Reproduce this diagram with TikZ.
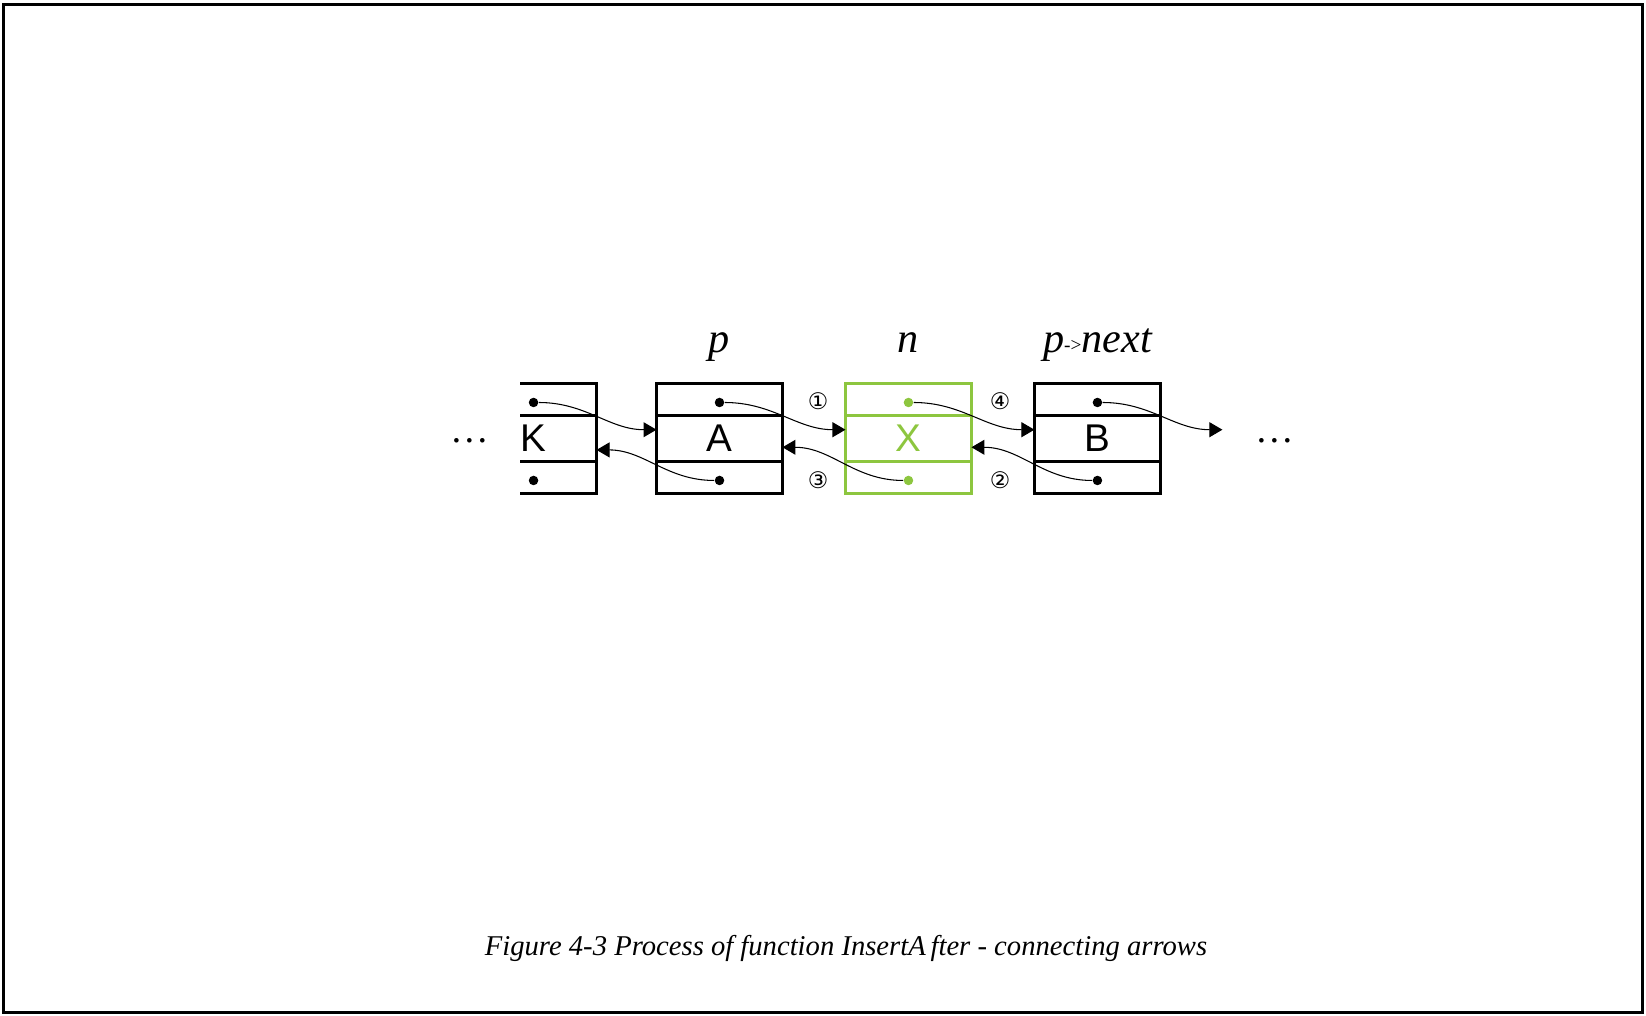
\documentclass[tikz,border=0pt]{standalone}
\usepackage{fontspec}
\setmainfont{Liberation Serif}
\setsansfont{Liberation Sans}
\newfontfamily\circfont{DejaVu Sans}
\usetikzlibrary{positioning,arrows.meta}
\definecolor{xgreen}{RGB}{141,198,63}

\begin{document}
\begin{tikzpicture}[->,>={Triangle[length=7.4pt,width=8.5pt]},x=0.02cm,y=-0.02cm,node distance=1.26cm,line width=0.6pt]
\tikzstyle{cell}=[draw=black,line width=1.6pt,minimum width=2.52cm,inner sep=0pt,outer sep=0pt]
\tikzstyle{ptr}=[cell,minimum height=0.64cm]
\tikzstyle{val}=[cell,minimum height=0.92cm,font=\sffamily\fontsize{22}{26}\selectfont]
\tikzstyle{newnode}=[draw=xgreen,text=xgreen]
\tikzstyle{dot}=[circle,fill=black,inner sep=0pt,minimum size=0.19cm]
\tikzstyle{lbl}=[anchor=base,font=\itshape\fontsize{24}{28}\selectfont]
\tikzstyle{num}=[font=\circfont\fontsize{13}{15}\selectfont]

\useasboundingbox (0,0) rectangle (1646,1016);
\draw[-,line width=1.7pt] (3.7,4.3) rectangle (1642,1012);

% the three whole nodes
\node[val] (A) at (719.5,438.5) {A};
\node[ptr] (An) [above=0pt of A] {};
\node[ptr] (Ap) [below=0pt of A] {};
\node[val,newnode] (X) [right=of A] {X};
\node[ptr,newnode] (Xn) [above=0pt of X] {};
\node[ptr,newnode] (Xp) [below=0pt of X] {};
\node[val] (B) [right=of X] {B};
\node[ptr] (Bn) [above=0pt of B] {};
\node[ptr] (Bp) [below=0pt of B] {};

% K is cut off on the left
\begin{scope}
\clip (520,370) rectangle (610,510);
\node[val] (K) [left=1.2cm of A] {K};
\node[ptr] (Kn) [above=0pt of K] {};
\node[ptr] (Kp) [below=0pt of K] {};
\end{scope}

\node[dot] (dKn) at ([yshift=-1.7pt]Kn.center) {};
\node[dot] (dKp) at ([yshift=-1.7pt]Kp.center) {};
\node[dot] (dAn) at ([yshift=-1.7pt]An.center) {};
\node[dot] (dAp) at ([yshift=-1.7pt]Ap.center) {};
\node[dot,fill=xgreen] (dXn) at ([yshift=-1.7pt]Xn.center) {};
\node[dot,fill=xgreen] (dXp) at ([yshift=-1.7pt]Xp.center) {};
\node[dot] (dBn) at ([yshift=-1.7pt]Bn.center) {};
\node[dot] (dBp) at ([yshift=-1.7pt]Bp.center) {};
\coordinate (Bend) at ([xshift=1.24cm,yshift=5pt]B.east);

\node[lbl] (lp) at (A |- 0,353) {p};
\node[lbl] (ln) at (X |- 0,353) {n};
\node[lbl] (lpn) at (B |- 0,353) {p\raisebox{1pt}{\upshape\fontsize{11}{11}\selectfont->}next};

\node[num] (c1) at (818,401) {①};
\node[num] (c3) at (818,480) {③};
\node[num] (c4) at (1000,401) {④};
\node[num] (c2) at (1000,480) {②};

\node[font=\fontsize{22}{26}\selectfont] (ldots) at (469.5,441) {\ldots};
\node[font=\fontsize{22}{26}\selectfont] (rdots) at (1275,441) {\ldots};

\path
(dKn) edge[out=0,in=180] ([yshift=5pt]A.west)
(dAp) edge[out=180,in=0] ([yshift=-6.5pt]K.east)
(dAn) edge[out=0,in=180] ([yshift=5pt]X.west)
(dXp) edge[out=180,in=0] ([yshift=-5pt]A.east)
(dXn) edge[out=0,in=180] ([yshift=5pt]B.west)
(dBp) edge[out=180,in=0] ([yshift=-5pt]X.east)
(dBn) edge[out=0,in=180] (Bend);

\node[anchor=base,font=\itshape\fontsize{16.3}{19}\selectfont] (cap) at (846,955) {Figure 4-3 Process of function InsertA\,fter - connecting arrows};
\end{tikzpicture}
\end{document}
